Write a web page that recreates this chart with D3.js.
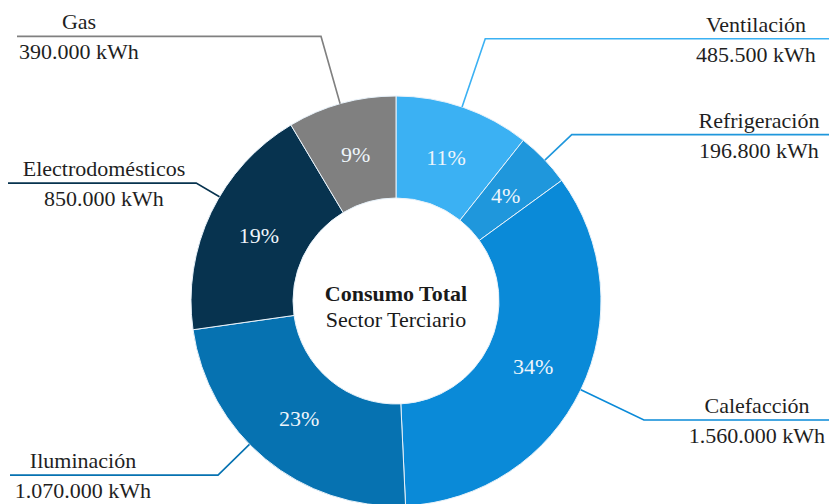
<!DOCTYPE html>
<html>
<head>
<meta charset="utf-8">
<script src="https://cdn.jsdelivr.net/npm/d3@7"></script>
<style>
  body { margin: 0; background: #fff; }
  svg text, text { font-family: 'Liberation Serif', 'Times New Roman', Tinos, Times !important; }
</style>
</head>
<body>
<script>
// data
var categories = ["Ventilación", "Refrigeración", "Calefacción", "Iluminación", "Electrodomésticos", "Gas"];
var consumo = [485500, 196800, 1560000, 1070000, 850000, 390000];
var valueLabels = ["485.500 kWh", "196.800 kWh", "1.560.000 kWh", "1.070.000 kWh", "850.000 kWh", "390.000 kWh"];
var pctLabels = ["11%", "4%", "34%", "23%", "19%", "9%"];
var colors = ["#3bb1f3", "#1f97dc", "#0a8ad8", "#0672b1", "#07334f", "#808080"];

// leader line layout (angle offset in degrees, elbow radius, line end x, text centre x)
var leaders = [
  {off: -0.4, elbowR: 277, endX: 829, textX: 756},
  {off: 0.4,  elbowR: 242, endX: 829, textX: 759},
  {off: 0,    elbowR: 275, endX: 829, textX: 757},
  {off: 6,    elbowR: 249, endX: 10,  textX: 83},
  {off: 5,    elbowR: 232, endX: 8,   textX: 104},
  {off: -0.4, elbowR: 275, endX: 17,  textX: 79}
];

var width = 829, height = 504;
var cx = 396, cy = 301, outerR = 205, innerR = 103;
var fontCss = "font-family:'Liberation Serif','Times New Roman',Tinos,Times !important;font-size:22px;";

var svg = d3.select("body").append("svg")
    .attr("width", width)
    .attr("height", height)
    .attr("font-family", "Liberation Serif");

var g = svg.append("g").attr("transform", "translate(" + cx + "," + cy + ")");

var pie = d3.pie().sort(null).value(function(d) { return d; });
var arcs = pie(consumo);

var arc = d3.arc().innerRadius(innerR).outerRadius(outerR);
var labelArc = d3.arc().innerRadius(152).outerRadius(152);

g.selectAll("path.slice")
    .data(arcs)
    .enter().append("path")
    .attr("class", "slice")
    .attr("d", arc)
    .attr("fill", function(d, i) { return colors[i]; })
    .attr("stroke", "#e8f2fa")
    .attr("stroke-width", 1);

// percent labels
g.selectAll("text.pct")
    .data(arcs)
    .enter().append("text")
    .attr("class", "pct")
    .attr("transform", function(d) { return "translate(" + labelArc.centroid(d) + ")"; })
    .attr("dy", "0.35em")
    .attr("text-anchor", "middle")
    .attr("style", fontCss + "fill:#eef5fb")
    .text(function(d, i) { return pctLabels[i]; });

// leader lines
function polar(angleDeg, r) {
  var a = angleDeg * Math.PI / 180;
  return [Math.sin(a) * r, -Math.cos(a) * r];
}

arcs.forEach(function(d, i) {
  var L = leaders[i];
  var mid = (d.startAngle + d.endAngle) / 2 * 180 / Math.PI + L.off;
  var p0 = polar(mid, outerR);
  var p1 = polar(mid, L.elbowR);
  var lineY = cy + p1[1];
  svg.append("polyline")
      .attr("points", [[cx + p0[0], cy + p0[1]], [cx + p1[0], lineY], [L.endX, lineY]].map(function(p) { return p.join(","); }).join(" "))
      .attr("fill", "none")
      .attr("stroke", colors[i])
      .attr("stroke-width", 1.6);

  svg.append("text")
      .attr("x", L.textX)
      .attr("y", lineY - 7)
      .attr("text-anchor", "middle")
      .attr("style", fontCss + "fill:#1f1f1f")
      .text(categories[i]);
  svg.append("text")
      .attr("x", L.textX)
      .attr("y", lineY + 23)
      .attr("text-anchor", "middle")
      .attr("style", fontCss + "fill:#1f1f1f")
      .text(valueLabels[i]);
});

// centre title
svg.append("text")
    .attr("x", cx)
    .attr("y", cy)
    .attr("text-anchor", "middle")
    .attr("style", fontCss + "font-weight:bold;fill:#1a1a1a")
    .text("Consumo Total");
svg.append("text")
    .attr("x", cx)
    .attr("y", cy + 26)
    .attr("text-anchor", "middle")
    .attr("style", fontCss + "fill:#1a1a1a")
    .text("Sector Terciario");
</script>
</body>
</html>
